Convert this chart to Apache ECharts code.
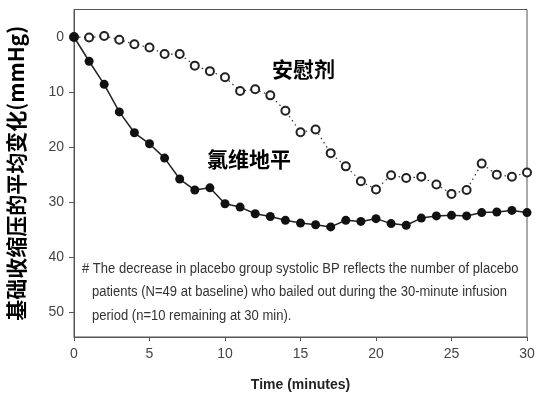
<!DOCTYPE html>
<html>
<head>
<meta charset="utf-8">
<script src="https://cdn.jsdelivr.net/npm/echarts@6/dist/echarts.min.js"></script>
<style>html,body{margin:0;padding:0;background:#fff;}#c{width:535px;height:394px;}</style>
</head>
<body>
<div id="c"></div>
<script>
const minutes = [0,1,2,3,4,5,6,7,8,9,10,11,12,13,14,15,16,17,18,19,20,21,22,23,24,25,26,27,28,29,30];
const placebo = [0,0.1,-0.2,0.5,1.3,1.9,3.1,3.1,5.2,6.2,7.3,9.8,9.5,10.6,13.4,17.3,16.8,21.1,23.5,26.2,27.7,25.1,25.6,25.4,26.8,28.5,27.8,23.0,25.0,25.4,24.6];
const clevidipine = [0,4.4,8.6,13.6,17.4,19.4,22.0,25.8,27.8,27.4,30.3,30.9,32.1,32.6,33.3,33.8,34.1,34.5,33.3,33.5,33.0,33.9,34.2,32.9,32.5,32.4,32.5,31.9,31.8,31.5,31.9];
const yTicks = [0,10,20,30,40,50];
const yTitle = '基础收缩压的平均变化(mmHg)';
const xTitle = 'Time (minutes)';
const placeboLabel = '安慰剂';
const clevLabel = '氯维地平';
const noteLines = [
  '# The decrease in placebo group systolic BP reflects the number of placebo',
  'patients (N=49 at baseline) who bailed out during the 30-minute infusion',
  'period (n=10 remaining at 30 min).'
];

const chart = echarts.init(document.getElementById('c'));
const fontSans = '"Liberation Sans",Arial,sans-serif';
const noteStyle = (t) => ({text: t, fill: '#333', font: '14px ' + fontSans});
chart.setOption({
  animation: false,
  backgroundColor: '#fff',
  grid: {left: 74, right: 8, top: 9.5, bottom: 57, show: true, borderColor: '#555', borderWidth: 1, containLabel: false, outerBoundsMode: 'none'},
  xAxis: {
    type: 'value', min: 0, max: 30, interval: 5,
    axisLine: {onZero: false, lineStyle: {color: '#555', width: 1}},
    axisTick: {show: true, length: 4, inside: false, lineStyle: {color: '#555'}},
    splitLine: {show: false},
    axisLabel: {color: '#444', fontSize: 14, margin: 10, fontFamily: fontSans},
    name: xTitle, nameLocation: 'middle', nameGap: 41,
    nameTextStyle: {color: '#222', fontSize: 14, fontWeight: 'bold', fontFamily: fontSans}
  },
  yAxis: {
    type: 'value', inverse: true, min: -5, max: 54.5,
    axisLine: {show: true, onZero: false, lineStyle: {color: '#555', width: 1}},
    axisTick: {show: true, length: 5, customValues: yTicks, lineStyle: {color: '#555'}},
    splitLine: {show: false},
    axisLabel: {color: '#444', fontSize: 14, margin: 10, customValues: yTicks, fontFamily: fontSans},
    name: yTitle, nameLocation: 'middle', nameGap: 47, nameRotate: 90,
    nameTextStyle: {color: '#000', fontSize: 21, fontWeight: 'bold', fontFamily: '"Noto Sans CJK SC","Liberation Sans",sans-serif'}
  },
  series: [
    {
      type: 'line', name: placeboLabel,
      data: minutes.map((m, i) => [m, placebo[i]]),
      symbol: 'emptyCircle', symbolSize: 8, showSymbol: true, showAllSymbol: true,
      lineStyle: {color: '#333', width: 1.2, type: [1.5, 3.5]},
      itemStyle: {color: '#222', borderColor: '#222', borderWidth: 1},
      z: 2
    },
    {
      type: 'line', name: clevLabel,
      data: minutes.map((m, i) => [m, clevidipine[i]]),
      symbol: 'circle', symbolSize: 9, showAllSymbol: true,
      lineStyle: {color: '#222', width: 1.5},
      itemStyle: {color: '#111', borderColor: '#111', borderWidth: 0},
      z: 3
    }
  ],
  graphic: [
    {type: 'text', left: 272, top: 59, style: {text: placeboLabel, fill: '#000', font: 'bold 21px "Noto Sans CJK SC",sans-serif'}},
    {type: 'text', left: 207, top: 149, style: {text: clevLabel, fill: '#000', font: 'bold 21px "Noto Sans CJK SC",sans-serif'}},
    {type: 'text', x: 82, y: 262, scaleX: 0.93, style: noteStyle(noteLines[0])},
    {type: 'text', x: 92, y: 285.5, scaleX: 0.93, style: noteStyle(noteLines[1])},
    {type: 'text', x: 92, y: 309, scaleX: 0.93, style: noteStyle(noteLines[2])}
  ]
});
</script>
</body>
</html>
